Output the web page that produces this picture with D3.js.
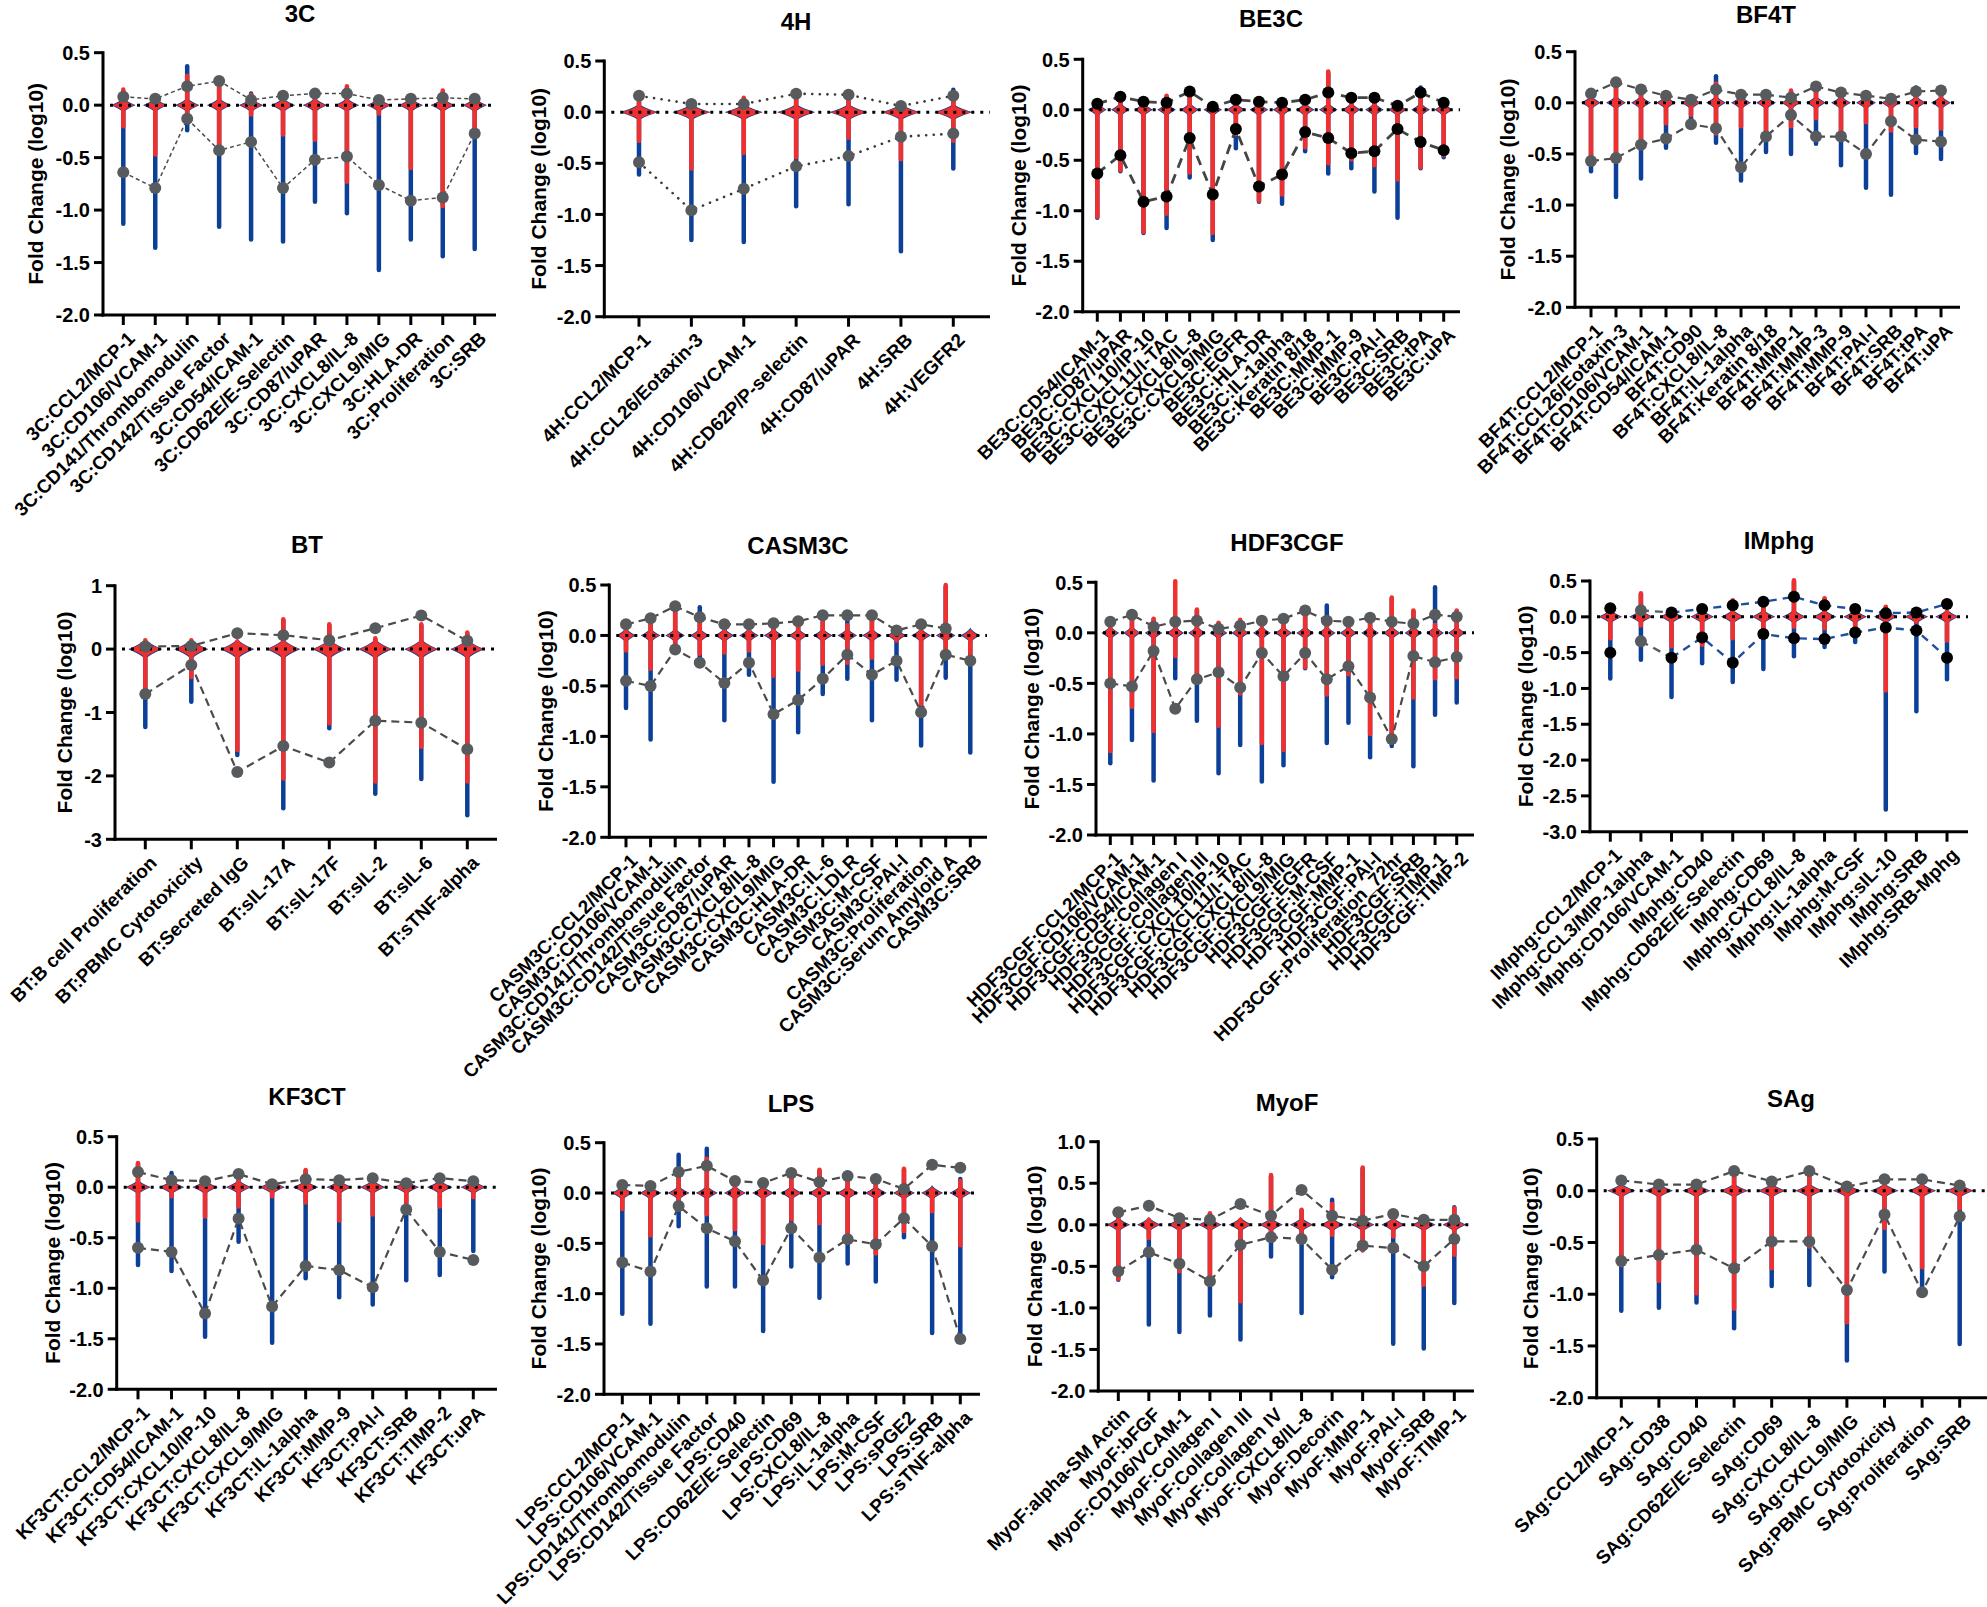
<!DOCTYPE html>
<html><head><meta charset="utf-8">
<script src="https://cdn.jsdelivr.net/npm/d3@7"></script>
<style>
body{margin:0;background:#fff}
svg{display:block}
text{font-family:"Liberation Sans",Arial,Helvetica,sans-serif;font-weight:bold;fill:#000}
</style>
</head><body>
<svg id="chart" width="1987" height="1607"></svg>
<script>
// ---------------- DATA ----------------
const c3C_cats = ["3C:CCL2/MCP-1","3C:CD106/VCAM-1","3C:CD141/Thrombomodulin","3C:CD142/Tissue Factor","3C:CD54/ICAM-1","3C:CD62E/E-Selectin","3C:CD87/uPAR","3C:CXCL8/IL-8","3C:CXCL9/MIG","3C:HLA-DR","3C:Proliferation","3C:SRB"];
const c3C_blueLo = [-1.13,-1.36,-0.24,-1.16,-1.28,-1.30,-0.92,-1.03,-1.57,-1.28,-1.44,-1.37];
const c3C_blueHi = [0.13,0.02,0.37,0.20,0.11,0.06,0.06,0.16,0.03,0.03,0.12,0.03];
const c3C_redLo  = [-0.20,-0.47,-0.08,-0.39,-0.09,-0.28,-0.33,-0.73,-0.08,-0.60,-0.96,-0.27];
const c3C_redHi  = [0.15,0.03,0.28,0.24,0.10,0.08,0.08,0.18,0.03,0.05,0.14,0.05];
const c3C_dotHi  = [0.08,0.06,0.18,0.23,0.05,0.09,0.11,0.11,0.05,0.06,0.07,0.06];
const c3C_dotLo  = [-0.64,-0.79,-0.13,-0.43,-0.35,-0.79,-0.52,-0.49,-0.76,-0.91,-0.88,-0.27];

const c4H_cats = ["4H:CCL2/MCP-1","4H:CCL26/Eotaxin-3","4H:CD106/VCAM-1","4H:CD62P/P-selectin","4H:CD87/uPAR","4H:SRB","4H:VEGFR2"];
const c4H_blueLo = [-0.61,-1.25,-1.27,-0.92,-0.90,-1.36,-0.55];
const c4H_blueHi = [0.10,0.04,0.12,0.18,0.15,0.02,0.22];
const c4H_redLo  = [-0.28,-0.55,-0.40,-0.44,-0.25,-0.46,-0.28];
const c4H_redHi  = [0.12,0.06,0.14,0.20,0.17,0.04,0.14];
const c4H_dotHi  = [0.16,0.08,0.08,0.18,0.17,0.06,0.16];
const c4H_dotLo  = [-0.49,-0.96,-0.75,-0.53,-0.43,-0.24,-0.21];

const cBE3C_cats = ["BE3C:CD54/ICAM-1","BE3C:CD87/uPAR","BE3C:CXCL10/IP-10","BE3C:CXCL11/I-TAC","BE3C:CXCL8/IL-8","BE3C:CXCL9/MIG","BE3C:EGFR","BE3C:HLA-DR","BE3C:IL-1alpha","BE3C:Keratin 8/18","BE3C:MMP-1","BE3C:MMP-9","BE3C:PAI-I","BE3C:SRB","BE3C:tPA","BE3C:uPA"];
const cBE3C_blueLo = [-1.07,-0.61,-1.22,-1.17,-0.67,-1.29,-0.38,-0.91,-0.93,-0.41,-0.63,-0.58,-0.81,-1.07,-0.58,-0.47];
const cBE3C_blueHi = [0.05,0.10,0.09,0.13,0.20,0.04,0.09,0.05,0.05,0.09,0.36,0.12,0.12,0.02,0.22,0.05];
const cBE3C_redLo  = [-1.06,-0.60,-1.21,-1.03,-0.62,-1.22,-0.24,-0.90,-0.84,-0.37,-0.53,-0.49,-0.55,-0.69,-0.57,-0.45];
const cBE3C_redHi  = [0.06,0.11,0.10,0.14,0.21,0.05,0.10,0.06,0.06,0.10,0.38,0.13,0.11,0.03,0.20,0.06];
const cBE3C_dotHi  = [0.06,0.13,0.08,0.07,0.18,0.03,0.10,0.08,0.07,0.10,0.17,0.12,0.12,0.04,0.17,0.07];
const cBE3C_dotLo  = [-0.63,-0.45,-0.91,-0.86,-0.28,-0.84,-0.19,-0.76,-0.64,-0.22,-0.28,-0.43,-0.41,-0.19,-0.32,-0.40];

const cBF4T_cats = ["BF4T:CCL2/MCP-1","BF4T:CCL26/Eotaxin-3","BF4T:CD106/VCAM-1","BF4T:CD54/ICAM-1","BF4T:CD90","BF4T:CXCL8/IL-8","BF4T:IL-1alpha","BF4T:Keratin 8/18","BF4T:MMP-1","BF4T:MMP-3","BF4T:MMP-9","BF4T:PAI-I","BF4T:SRB","BF4T:tPA","BF4T:uPA"];
const cBF4T_blueLo = [-0.67,-0.92,-0.74,-0.44,-0.19,-0.39,-0.76,-0.48,-0.50,-0.40,-0.61,-0.83,-0.90,-0.49,-0.55];
const cBF4T_blueHi = [0.05,0.20,0.09,0.07,0.04,0.26,0.07,0.07,0.11,0.11,0.07,0.05,0.00,0.15,0.08];
const cBF4T_redLo  = [-0.56,-0.53,-0.35,-0.20,-0.12,-0.30,-0.23,-0.28,-0.23,-0.15,-0.28,-0.19,-0.27,-0.23,-0.25];
const cBF4T_redHi  = [0.06,0.22,0.10,0.08,0.05,0.19,0.08,0.08,0.12,0.12,0.08,0.06,0.01,0.08,0.09];
const cBF4T_dotHi  = [0.09,0.20,0.13,0.07,0.03,0.13,0.08,0.08,0.05,0.16,0.10,0.07,0.04,0.11,0.12];
const cBF4T_dotLo  = [-0.57,-0.54,-0.41,-0.35,-0.21,-0.25,-0.63,-0.33,-0.12,-0.33,-0.33,-0.50,-0.18,-0.36,-0.38];

const cBT_cats = ["BT:B cell Proliferation","BT:PBMC Cytotoxicity","BT:Secreted IgG","BT:sIL-17A","BT:sIL-17F","BT:sIL-2","BT:sIL-6","BT:sTNF-alpha"];
const cBT_blueLo = [-1.23,-0.83,-1.67,-2.51,-1.25,-2.28,-2.05,-2.62];
const cBT_blueHi = [0.12,0.12,0.10,0.45,0.37,0.15,0.37,0.24];
const cBT_redLo  = [-0.73,-0.44,-1.59,-2.04,-1.17,-2.09,-1.54,-2.09];
const cBT_redHi  = [0.14,0.14,0.12,0.47,0.39,0.17,0.39,0.26];
const cBT_dotHi  = [0.04,0.05,0.25,0.22,0.14,0.33,0.53,0.13];
const cBT_dotLo  = [-0.71,-0.25,-1.94,-1.53,-1.79,-1.13,-1.16,-1.58];

const cCASM3C_cats = ["CASM3C:CCL2/MCP-1","CASM3C:CD106/VCAM-1","CASM3C:CD141/Thrombomodulin","CASM3C:CD142/Tissue Factor","CASM3C:CD87/uPAR","CASM3C:CXCL8/IL-8","CASM3C:CXCL9/MIG","CASM3C:HLA-DR","CASM3C:IL-6","CASM3C:LDLR","CASM3C:M-CSF","CASM3C:PAI-I","CASM3C:Proliferation","CASM3C:Serum Amyloid A","CASM3C:SRB"];
const cCASM3C_blueLo = [-0.72,-1.03,-0.12,-0.27,-0.84,-0.39,-1.45,-0.96,-0.58,-0.43,-0.84,-0.44,-1.09,-0.42,-1.16];
const cCASM3C_blueHi = [0.07,0.14,0.30,0.28,0.07,0.07,0.06,0.09,0.17,0.18,0.14,0.05,0.04,0.48,0.03];
const cCASM3C_redLo  = [-0.15,-0.33,-0.10,-0.18,-0.17,-0.15,-0.40,-0.34,-0.28,-0.27,-0.22,-0.05,-0.68,-0.13,-0.18];
const cCASM3C_redHi  = [0.08,0.15,0.22,0.20,0.08,0.08,0.07,0.10,0.13,0.10,0.15,0.02,0.05,0.50,0.02];
const cCASM3C_dotHi  = [0.11,0.17,0.29,0.18,0.11,0.11,0.12,0.14,0.20,0.20,0.20,0.05,0.11,0.07,null];
const cCASM3C_dotLo  = [-0.45,-0.50,-0.14,-0.27,-0.47,-0.27,-0.78,-0.64,-0.43,-0.19,-0.39,-0.25,-0.76,-0.19,-0.25];

const cHDF_cats = ["HDF3CGF:CCL2/MCP-1","HDF3CGF:CD106/VCAM-1","HDF3CGF:CD54/ICAM-1","HDF3CGF:Collagen I","HDF3CGF:Collagen III","HDF3CGF:CXCL10/IP-10","HDF3CGF:CXCL11/I-TAC","HDF3CGF:CXCL8/IL-8","HDF3CGF:CXCL9/MIG","HDF3CGF:EGFR","HDF3CGF:M-CSF","HDF3CGF:MMP-1","HDF3CGF:PAI-I","HDF3CGF:Proliferation_72hr","HDF3CGF:SRB","HDF3CGF:TIMP-1","HDF3CGF:TIMP-2"];
const cHDF_blueLo = [-1.29,-1.06,-1.46,-0.45,-0.87,-1.39,-1.11,-1.47,-1.31,-0.35,-1.09,-0.89,-1.23,-1.12,-1.32,-0.81,-0.69];
const cHDF_blueHi = [0.04,0.13,0.13,0.10,0.22,0.09,0.12,0.04,0.07,0.20,0.27,0.07,0.10,0.34,0.21,0.45,0.21];
const cHDF_redLo  = [-1.17,-0.73,-0.97,-0.23,-0.48,-0.92,-0.60,-1.09,-1.16,-0.34,-0.61,-0.41,-1.00,-1.07,-0.64,-0.45,-0.44];
const cHDF_redHi  = [0.05,0.14,0.14,0.51,0.23,0.10,0.13,0.05,0.08,0.21,0.08,0.08,0.11,0.35,0.22,0.08,0.22];
const cHDF_dotHi  = [0.11,0.18,0.06,0.11,0.12,0.04,0.07,0.12,0.14,0.22,0.12,0.11,0.15,0.11,0.09,0.18,0.16];
const cHDF_dotLo  = [-0.50,-0.53,-0.18,-0.75,-0.46,-0.39,-0.54,-0.20,-0.43,-0.20,-0.46,-0.33,-0.64,-1.05,-0.23,-0.29,-0.24];

const cIM_cats = ["IMphg:CCL2/MCP-1","IMphg:CCL3/MIP-1alpha","IMphg:CD106/VCAM-1","IMphg:CD40","IMphg:CD62E/E-Selectin","IMphg:CD69","IMphg:CXCL8/IL-8","IMphg:IL-1alpha","IMphg:M-CSF","IMphg:sIL-10","IMphg:SRB","IMphg:SRB-Mphg"];
const cIM_blueLo = [-0.86,-0.60,-1.12,-0.65,-0.91,-0.73,-0.55,-0.42,-0.35,-2.69,-1.32,-0.87];
const cIM_blueHi = [0.06,0.31,0.04,0.04,0.22,0.21,0.49,0.25,0.07,0.13,0.05,0.06];
const cIM_redLo  = [-0.30,-0.12,-0.41,-0.39,-0.30,-0.16,-0.14,-0.16,-0.16,-1.03,-0.07,-0.33];
const cIM_redHi  = [0.07,0.33,0.05,0.05,0.23,0.22,0.51,0.26,0.08,0.14,0.06,0.07];
const cIM_dotHi  = [0.12,0.09,0.06,0.11,0.16,0.21,0.28,0.16,0.11,0.05,0.06,0.18];
const cIM_dotLo  = [-0.50,-0.34,-0.57,-0.29,-0.64,-0.24,-0.30,-0.31,-0.22,-0.15,-0.19,-0.57];
const cIM_dotKind = ["k","g","k","k","k","k","k","k","k","k","k","k"];

const cKF_cats = ["KF3CT:CCL2/MCP-1","KF3CT:CD54/ICAM-1","KF3CT:CXCL10/IP-10","KF3CT:CXCL8/IL-8","KF3CT:CXCL9/MIG","KF3CT:IL-1alpha","KF3CT:MMP-9","KF3CT:PAI-I","KF3CT:SRB","KF3CT:TIMP-2","KF3CT:uPA"];
const cKF_blueLo = [-0.77,-0.83,-1.48,-0.54,-1.54,-0.90,-1.09,-1.16,-0.92,-0.87,-0.63];
const cKF_blueHi = [0.23,0.14,0.07,0.10,0.05,0.16,0.07,0.07,0.05,0.05,0.05];
const cKF_redLo  = [-0.33,-0.09,-0.29,-0.19,-0.09,-0.15,-0.33,-0.27,-0.15,-0.19,-0.10];
const cKF_redHi  = [0.24,0.08,0.08,0.11,0.06,0.17,0.08,0.08,0.06,0.06,0.06];
const cKF_dotHi  = [0.15,0.07,0.06,0.13,0.03,0.08,0.07,0.09,0.04,0.09,0.06];
const cKF_dotLo  = [-0.60,-0.64,-1.25,-0.31,-1.18,-0.78,-0.82,-0.99,-0.22,-0.64,-0.72];

const cLPS_cats = ["LPS:CCL2/MCP-1","LPS:CD106/VCAM-1","LPS:CD141/Thrombomodulin","LPS:CD142/Tissue Factor","LPS:CD40","LPS:CD62E/E-Selectin","LPS:CD69","LPS:CXCL8/IL-8","LPS:IL-1alpha","LPS:M-CSF","LPS:sPGE2","LPS:SRB","LPS:sTNF-alpha"];
const cLPS_blueLo = [-1.20,-1.30,-0.33,-0.93,-0.93,-1.37,-0.73,-1.04,-0.70,-0.88,-0.44,-1.39,-1.43];
const cLPS_blueHi = [0.07,0.04,0.38,0.44,0.11,0.07,0.17,0.22,0.12,0.15,0.23,0.02,0.14];
const cLPS_redLo  = [-0.16,-0.42,-0.10,-0.21,-0.36,-0.50,-0.26,-0.30,-0.39,-0.60,-0.38,-0.18,-0.52];
const cLPS_redHi  = [0.08,0.05,0.21,0.34,0.12,0.08,0.18,0.23,0.13,0.16,0.24,0.03,0.12];
const cLPS_dotHi  = [0.08,0.07,0.21,0.27,0.12,0.10,0.20,0.11,0.17,0.14,0.04,0.28,0.25];
const cLPS_dotLo  = [-0.69,-0.78,-0.13,-0.35,-0.48,-0.87,-0.35,-0.64,-0.46,-0.51,-0.25,-0.53,-1.45];

const cMyoF_cats = ["MyoF:alpha-SM Actin","MyoF:bFGF","MyoF:CD106/VCAM-1","MyoF:Collagen I","MyoF:Collagen III","MyoF:Collagen IV","MyoF:CXCL8/IL-8","MyoF:Decorin","MyoF:MMP-1","MyoF:PAI-I","MyoF:SRB","MyoF:TIMP-1"];
const cMyoF_blueLo = [-0.66,-1.20,-1.29,-1.09,-1.38,-0.38,-1.06,-0.63,-0.30,-1.43,-1.49,-0.94];
const cMyoF_blueHi = [0.13,0.05,0.03,0.13,0.05,0.58,0.17,0.30,0.67,0.07,0.03,0.21];
const cMyoF_redLo  = [-0.65,-0.16,-0.56,-0.68,-0.92,-0.08,-0.18,-0.12,-0.31,-0.14,-0.72,-0.36];
const cMyoF_redHi  = [0.14,0.06,0.04,0.14,0.06,0.60,0.18,0.25,0.69,0.08,0.04,0.20];
const cMyoF_dotHi  = [0.15,0.23,0.08,0.06,0.25,0.11,0.42,0.11,0.05,0.13,0.06,0.06];
const cMyoF_dotLo  = [-0.56,-0.33,-0.47,-0.68,-0.24,-0.15,-0.17,-0.54,-0.25,-0.28,-0.50,-0.17];

const cSAg_cats = ["SAg:CCL2/MCP-1","SAg:CD38","SAg:CD40","SAg:CD62E/E-Selectin","SAg:CD69","SAg:CXCL8/IL-8","SAg:CXCL9/MIG","SAg:PBMC Cytotoxicity","SAg:Proliferation","SAg:SRB"];
const cSAg_blueLo = [-1.16,-1.13,-1.08,-1.33,-0.92,-0.91,-1.64,-0.78,-0.95,-1.48];
const cSAg_blueHi = [0.03,0.03,0.03,0.16,0.04,0.14,0.00,0.04,0.04,0.01];
const cSAg_redLo  = [-0.72,-0.87,-0.99,-1.14,-0.75,-0.54,-1.27,-0.36,-0.74,-0.17];
const cSAg_redHi  = [0.04,0.04,0.04,0.17,0.05,0.15,0.01,0.05,0.05,0.02];
const cSAg_dotHi  = [0.10,0.06,0.06,0.19,0.09,0.19,0.04,0.11,0.11,0.05];
const cSAg_dotLo  = [-0.68,-0.62,-0.57,-0.75,-0.49,-0.49,-0.96,-0.23,-0.98,-0.25];

const panelTitles = ["3C","4H","BE3C","BF4T","BT","CASM3C","HDF3CGF","IMphg","KF3CT","LPS","MyoF","SAg"];
const yDomains = [[-2,0.5],[-2,0.5],[-2,0.5],[-2,0.5],[-3,1],[-2,0.5],[-2,0.5],[-3,0.5],[-2,0.5],[-2,0.5],[-2,1],[-2,0.5]];
const yTickSteps = [0.5,0.5,0.5,0.5,1,0.5,0.5,0.5,0.5,0.5,0.5,0.5];

// ---------------- LAYOUT (pixels) ----------------
const layouts = [
 {ax:103,  xEnd:496,  yT:52.7,  yB:315,   c0:123.3, c1:474.7, tx:300,  ty:13,   lo:67, H:7},
 {ax:604.3,xEnd:990,  yT:61,    yB:316.7, c0:639,   c1:953.3, tx:796,  ty:21,   lo:66, H:8},
 {ax:1082.7,xEnd:1460,yT:59.3,  yB:311.7, c0:1097.3,c1:1443.7,tx:1271, ty:18,   lo:64, H:7},
 {ax:1575, xEnd:1960, yT:51.7,  yB:307.3, c0:1591,  c1:1941,  tx:1766, ty:14,   lo:67, H:7},
 {ax:115,  xEnd:497,  yT:585.7, yB:839.3, c0:145.3, c1:467.3, tx:307,  ty:544,  lo:50, H:10},
 {ax:609.3,xEnd:987,  yT:585,   yB:837.3, c0:626,   c1:970.3, tx:798,  ty:545,  lo:64, H:7},
 {ax:1096, xEnd:1474, yT:582.3, yB:835,   c0:1110.3,c1:1456.7,tx:1287, ty:542,  lo:64, H:7},
 {ax:1590, xEnd:1968, yT:581,   yB:831.7, c0:1610.3,c1:1947,  tx:1779, ty:540,  lo:64, H:7},
 {ax:116.7,xEnd:497,  yT:1136.7,yB:1389.3,c0:138,   c1:473.3, tx:307,  ty:1096, lo:64, H:7},
 {ax:604,  xEnd:980,  yT:1142.7,yB:1394.3,c0:622.3, c1:960.3, tx:791,  ty:1103, lo:65, H:7},
 {ax:1098.3,xEnd:1474,yT:1141.7,yB:1391,  c0:1118.3,c1:1454.3,tx:1287, ty:1102, lo:64, H:7},
 {ax:1596.7,xEnd:1987,yT:1139,  yB:1397.7,c0:1621.3,c1:1959.7,tx:1791, ty:1098, lo:66, H:7}
];

const styles = {
 base:  {line:"#4b4b4b", width:2.2, dash:"8,5",  cap:"butt",  dot:"#575b5d"},
 thin:  {line:"#4b4b4b", width:1.5, dash:"4,3",  cap:"butt",  dot:"#575b5d"},
 dotted:{line:"#3a3a3a", width:2.6, dash:"0.1,7.5", cap:"round", dot:"#575b5d"},
 be3c:  {line:"#444444", width:2.8, dash:"10,7", cap:"butt",  dot:"#000000"},
 imphg: {line:"#1f4e9e", width:2.4, dash:"8,6",  cap:"butt",  dot:"#000000", alt:"#575b5d"}
};
const panelStyle = ["thin","dotted","be3c","base","base","base","base","imphg","base","base","base","base"];

const panels = [
 [c3C_cats,c3C_blueLo,c3C_blueHi,c3C_redLo,c3C_redHi,c3C_dotHi,c3C_dotLo],
 [c4H_cats,c4H_blueLo,c4H_blueHi,c4H_redLo,c4H_redHi,c4H_dotHi,c4H_dotLo],
 [cBE3C_cats,cBE3C_blueLo,cBE3C_blueHi,cBE3C_redLo,cBE3C_redHi,cBE3C_dotHi,cBE3C_dotLo],
 [cBF4T_cats,cBF4T_blueLo,cBF4T_blueHi,cBF4T_redLo,cBF4T_redHi,cBF4T_dotHi,cBF4T_dotLo],
 [cBT_cats,cBT_blueLo,cBT_blueHi,cBT_redLo,cBT_redHi,cBT_dotHi,cBT_dotLo],
 [cCASM3C_cats,cCASM3C_blueLo,cCASM3C_blueHi,cCASM3C_redLo,cCASM3C_redHi,cCASM3C_dotHi,cCASM3C_dotLo],
 [cHDF_cats,cHDF_blueLo,cHDF_blueHi,cHDF_redLo,cHDF_redHi,cHDF_dotHi,cHDF_dotLo],
 [cIM_cats,cIM_blueLo,cIM_blueHi,cIM_redLo,cIM_redHi,cIM_dotHi,cIM_dotLo],
 [cKF_cats,cKF_blueLo,cKF_blueHi,cKF_redLo,cKF_redHi,cKF_dotHi,cKF_dotLo],
 [cLPS_cats,cLPS_blueLo,cLPS_blueHi,cLPS_redLo,cLPS_redHi,cLPS_dotHi,cLPS_dotLo],
 [cMyoF_cats,cMyoF_blueLo,cMyoF_blueHi,cMyoF_redLo,cMyoF_redHi,cMyoF_dotHi,cMyoF_dotLo],
 [cSAg_cats,cSAg_blueLo,cSAg_blueHi,cSAg_redLo,cSAg_redHi,cSAg_dotHi,cSAg_dotLo]
];

// ---------------- DRAW ----------------
const RED = "#f0302f", BLUE = "#0c3f97";
const svg = d3.select("#chart");

function bulgePath(cx, y0, W, H){
  const pts = d3.range(-H, H + 0.001, 0.5).map(dy => {
    const hw = W * Math.pow(Math.max(0, 1 - Math.abs(dy) / H), 1.6);
    return [y0 + dy, hw];
  });
  return d3.area().x0(p => cx - p[1]).x1(p => cx + p[1]).y(p => p[0])(pts);
}

panels.forEach((pd, i) => {
  const [cats, bLo, bHi, rLo, rHi, dHi, dLo] = pd;
  const L = layouts[i];
  const st = styles[panelStyle[i]];
  const g = svg.append("g");
  const y = d3.scaleLinear().domain(yDomains[i]).range([L.yB, L.yT]);
  const x = d3.scalePoint().domain(cats).range([L.c0, L.c1]);
  const step = (L.c1 - L.c0) / (cats.length - 1);
  const W = Math.min(18, step * 0.34);
  const H = L.H;
  const lw = 4.5;
  const y0 = y(0);

  cats.forEach((c, k) => {
    const cx = x(c);
    g.append("line").attr("x1", cx).attr("x2", cx).attr("y1", y(bHi[k])).attr("y2", y(bLo[k]))
      .attr("stroke", BLUE).attr("stroke-width", lw).attr("stroke-linecap", "round");
    g.append("path").attr("d", bulgePath(cx, y0, W + 1.6, H + 1.2)).attr("fill", BLUE);
  });
  cats.forEach((c, k) => {
    const cx = x(c);
    g.append("line").attr("x1", cx).attr("x2", cx).attr("y1", y(rHi[k])).attr("y2", y(rLo[k]))
      .attr("stroke", RED).attr("stroke-width", lw).attr("stroke-linecap", "round");
    g.append("path").attr("d", bulgePath(cx, y0, W, H)).attr("fill", RED);
  });

  g.append("line").attr("x1", L.ax + 7).attr("x2", L.xEnd).attr("y1", y0).attr("y2", y0)
    .attr("stroke", "#000").attr("stroke-width", 3).attr("stroke-dasharray", "3,6");

  const isAlt = k => panelTitles[i] === "IMphg" && cIM_dotKind[k] === "g";
  [dHi, dLo].forEach(vals => {
    const line = d3.line().defined((v, k) => v !== null && !isAlt(k))
      .x((v, k) => x(cats[k])).y(v => y(v));
    g.append("path").attr("d", line(vals)).attr("fill", "none").attr("stroke", st.line)
      .attr("stroke-width", st.width).attr("stroke-dasharray", st.dash).attr("stroke-linecap", st.cap);
    if (panelTitles[i] === "IMphg") {
      vals.forEach((v, k) => {
        if (isAlt(k) && k + 1 < vals.length) {
          g.append("line").attr("x1", x(cats[k])).attr("y1", y(v)).attr("x2", x(cats[k+1])).attr("y2", y(vals[k+1]))
            .attr("stroke", st.alt).attr("stroke-width", st.width).attr("stroke-dasharray", st.dash);
        }
      });
    }
  });
  [dHi, dLo].forEach(vals => {
    vals.forEach((v, k) => {
      if (v === null) return;
      g.append("circle").attr("cx", x(cats[k])).attr("cy", y(v)).attr("r", 6)
        .attr("fill", isAlt(k) ? st.alt : st.dot);
    });
  });

  const ticks = d3.range(yDomains[i][0], yDomains[i][1] + 1e-9, yTickSteps[i]);
  const fmt = yTickSteps[i] >= 1 ? (d => d.toFixed(0)) : (d => d.toFixed(1));
  g.append("line").attr("x1", L.ax).attr("x2", L.ax).attr("y1", y(yDomains[i][1]) - 1.5).attr("y2", L.yB + 1.5)
    .attr("stroke", "#000").attr("stroke-width", 3);
  ticks.forEach(t => {
    g.append("line").attr("x1", L.ax - 9).attr("x2", L.ax).attr("y1", y(t)).attr("y2", y(t))
      .attr("stroke", "#000").attr("stroke-width", 3);
    g.append("text").attr("x", L.ax - 13).attr("y", y(t)).attr("dy", "0.36em")
      .attr("text-anchor", "end").attr("font-size", 20).text(fmt(t));
  });
  g.append("line").attr("x1", L.ax - 1.5).attr("x2", L.xEnd).attr("y1", L.yB).attr("y2", L.yB)
    .attr("stroke", "#000").attr("stroke-width", 3);
  cats.forEach(c => {
    const cx = x(c);
    g.append("line").attr("x1", cx).attr("x2", cx).attr("y1", L.yB).attr("y2", L.yB + 10)
      .attr("stroke", "#000").attr("stroke-width", 3);
    g.append("text").attr("transform", `translate(${cx + 3},${L.yB + 15}) rotate(-45)`)
      .attr("text-anchor", "end").attr("dy", "0.72em").attr("font-size", 19).text(c);
  });

  g.append("text").attr("transform", `translate(${L.ax - L.lo},${(L.yT + L.yB) / 2}) rotate(-90)`)
    .attr("text-anchor", "middle").attr("dy", "0.35em").attr("font-size", 21).text("Fold Change (log10)");
  g.append("text").attr("x", L.tx).attr("y", L.ty).attr("dy", "0.36em").attr("text-anchor", "middle")
    .attr("font-size", 24).text(panelTitles[i]);
});
</script>
</body></html>
